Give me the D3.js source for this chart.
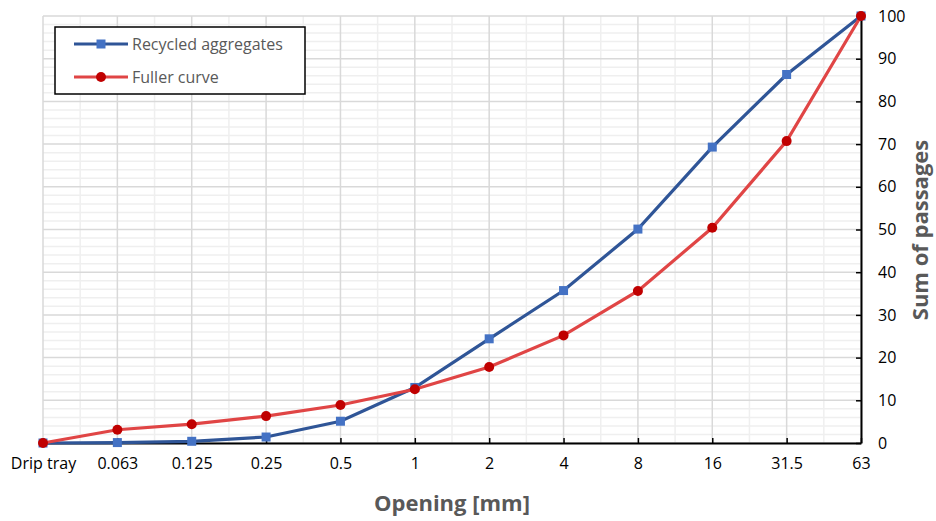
<!DOCTYPE html>
<html>
<head>
<meta charset="utf-8">
<script src="https://cdn.jsdelivr.net/npm/d3@7"></script>
<style>
  body { margin: 0; background: #fff; }
  svg text { font-family: "Open Sans", "Noto Sans", sans-serif; }
</style>
</head>
<body>
<svg id="chart" width="936" height="521"></svg>
<script>
// categories (sieve openings) and the two series
var openings = ["Drip tray", "0.063", "0.125", "0.25", "0.5", "1", "2", "4", "8", "16", "31.5", "63"];
var recycled = [0, 0.1, 0.4, 1.4, 5.1, 13.0, 24.4, 35.7, 50.1, 69.3, 86.3, 100];
var fuller = [0, 3.1, 4.4, 6.3, 8.9, 12.6, 17.8, 25.2, 35.6, 50.4, 70.7, 100];
var yTicks = [0, 10, 20, 30, 40, 50, 60, 70, 80, 90, 100];

var margin = {top: 16, right: 75, bottom: 78, left: 43},
    width = 936 - margin.left - margin.right,
    height = 521 - margin.top - margin.bottom;

var svg = d3.select("#chart");
var g = svg.append("g")
    .attr("transform", "translate(" + margin.left + "," + margin.top + ")");

var x = d3.scalePoint()
    .domain(openings)
    .range([0, width]);

var y = d3.scaleLinear()
    .domain([0, 100])
    .range([height, 0]);

var step = x.step();

// minor grid: horizontal every 2, vertical between categories
g.append("g").selectAll("line")
    .data(d3.range(0, 101, 2).filter(function(d) { return d % 10 != 0; }))
    .enter().append("line")
    .attr("x1", 0).attr("x2", width)
    .attr("y1", function(d) { return y(d); })
    .attr("y2", function(d) { return y(d); })
    .attr("stroke", "#efefef").attr("stroke-width", 1.5);

g.append("g").selectAll("line")
    .data(openings.slice(1))
    .enter().append("line")
    .attr("x1", function(d) { return x(d) - step / 2; })
    .attr("x2", function(d) { return x(d) - step / 2; })
    .attr("y1", 0).attr("y2", height)
    .attr("stroke", "#efefef").attr("stroke-width", 1.5);

// major grid
g.append("g").selectAll("line")
    .data(yTicks)
    .enter().append("line")
    .attr("x1", 0).attr("x2", width)
    .attr("y1", function(d) { return y(d); })
    .attr("y2", function(d) { return y(d); })
    .attr("stroke", "#d9d9d9").attr("stroke-width", 1.5);

g.append("g").selectAll("line")
    .data(openings)
    .enter().append("line")
    .attr("x1", function(d) { return x(d); })
    .attr("x2", function(d) { return x(d); })
    .attr("y1", 0).attr("y2", height)
    .attr("stroke", "#d9d9d9").attr("stroke-width", 1.5);

// x axis (bottom), ticks pointing inward
var xAxis = g.append("g")
    .attr("transform", "translate(0," + height + ")")
    .call(d3.axisBottom(x).tickSizeInner(-5).tickSizeOuter(0).tickPadding(15));
xAxis.select(".domain").attr("stroke", "#000").attr("stroke-width", 2);
xAxis.selectAll(".tick line").attr("stroke", "#000").attr("stroke-width", 1.5);
xAxis.selectAll("text").attr("font-size", 16).attr("fill", "#000");

// y axis (right)
var yAxis = g.append("g")
    .attr("transform", "translate(" + width + ",0)")
    .call(d3.axisRight(y).tickValues(yTicks).tickSizeInner(-5).tickSizeOuter(0).tickPadding(17));
yAxis.select(".domain").attr("stroke", "#000").attr("stroke-width", 2);
yAxis.selectAll(".tick line").attr("stroke", "#000").attr("stroke-width", 1.5);
yAxis.selectAll("text").attr("font-size", 16).attr("fill", "#000");

// lines
var line = d3.line()
    .x(function(d, i) { return x(openings[i]); })
    .y(function(d) { return y(d); });

g.append("path")
    .datum(recycled)
    .attr("d", line)
    .attr("fill", "none")
    .attr("stroke", "#2F5597")
    .attr("stroke-width", 3.2);

g.append("g").selectAll("rect")
    .data(recycled)
    .enter().append("rect")
    .attr("x", function(d, i) { return x(openings[i]) - 4.5; })
    .attr("y", function(d) { return y(d) - 4.5; })
    .attr("width", 9).attr("height", 9)
    .attr("fill", "#4472C4");

g.append("path")
    .datum(fuller)
    .attr("d", line)
    .attr("fill", "none")
    .attr("stroke", "#E04545")
    .attr("stroke-width", 3.2);

g.append("g").selectAll("circle")
    .data(fuller)
    .enter().append("circle")
    .attr("cx", function(d, i) { return x(openings[i]); })
    .attr("cy", function(d) { return y(d); })
    .attr("r", 5)
    .attr("fill", "#C00000");

// axis titles
svg.append("text")
    .attr("x", 452).attr("y", 511)
    .attr("text-anchor", "middle")
    .attr("font-size", 22).attr("font-weight", "bold")
    .attr("fill", "#595959")
    .text("Opening [mm]");

svg.append("text")
    .attr("transform", "translate(928,230) rotate(-90)")
    .attr("text-anchor", "middle")
    .attr("font-size", 22).attr("font-weight", "bold")
    .attr("fill", "#595959")
    .text("Sum of passages");

// legend
var legend = svg.append("g");
legend.append("rect")
    .attr("x", 55).attr("y", 27)
    .attr("width", 250).attr("height", 67)
    .attr("fill", "#fff")
    .attr("stroke", "#000").attr("stroke-width", 1.5);

var legendItems = [
  {name: "Recycled aggregates", line: "#2F5597", marker: "#4472C4", shape: "square"},
  {name: "Fuller curve", line: "#E04545", marker: "#C00000", shape: "circle"}
];

legendItems.forEach(function(item, i) {
  var ly = 44 + i * 33;
  legend.append("line")
      .attr("x1", 74).attr("x2", 128)
      .attr("y1", ly).attr("y2", ly)
      .attr("stroke", item.line).attr("stroke-width", 3.2);
  if (item.shape == "square") {
    legend.append("rect")
        .attr("x", 101 - 4.5).attr("y", ly - 4.5)
        .attr("width", 9).attr("height", 9)
        .attr("fill", item.marker);
  } else {
    legend.append("circle")
        .attr("cx", 101).attr("cy", ly).attr("r", 5)
        .attr("fill", item.marker);
  }
  legend.append("text")
      .attr("x", 132).attr("y", ly + 5.5)
      .attr("font-size", 16)
      .attr("fill", "#595959")
      .text(item.name);
});
</script>
</body>
</html>
